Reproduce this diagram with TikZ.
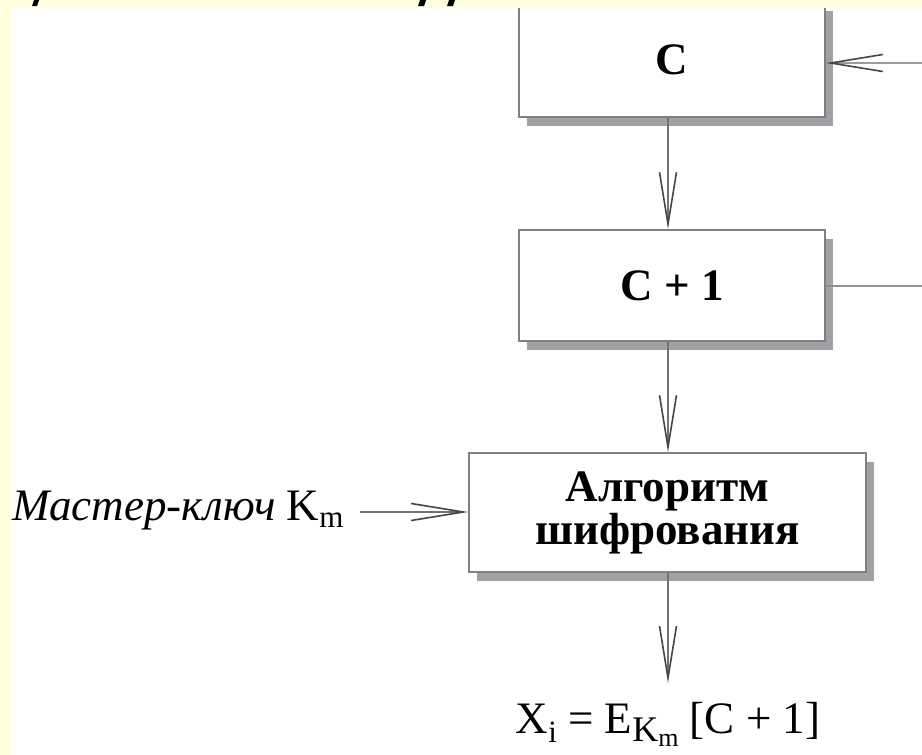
\documentclass[tikz,border=0pt]{standalone}
\usepackage{fontspec}
\setmainfont{Liberation Serif}
\usetikzlibrary{arrows.meta,shadows}
\definecolor{bgyellow}{RGB}{255,255,224}
\definecolor{boxgray}{RGB}{128,128,128}
\definecolor{shadowgray}{RGB}{160,160,165}
\definecolor{linegray}{RGB}{115,115,115}
\definecolor{tipgray}{RGB}{70,70,70}
\tikzset{
  blockbox/.style={draw=boxgray, line width=1.6pt, fill=white, inner sep=0pt,
    drop shadow={shadow xshift=8pt, shadow yshift=-9pt, fill=shadowgray, opacity=1},
    font=\fontsize{45}{50}\selectfont\bfseries, align=center},
  conn/.style={draw=linegray, line width=1.3pt},
  arr/.style={conn, -{Straight Barb[length=52pt,width=17pt,line width=1.6pt,color=tipgray]}},
  txt/.style={inner sep=0pt, font=\fontsize{45}{50}\selectfont}
}
\begin{document}
\begin{tikzpicture}[x=1pt,y=-1pt]
\useasboundingbox (0,0) rectangle (922,755);
\fill[bgyellow] (0,0) rectangle (922,755);
\fill[white] (11,8) rectangle (922,755);

\node[blockbox, minimum width=306pt, minimum height=115pt] (C) at (672,59.5) {C};
\node[blockbox, minimum width=306pt, minimum height=111pt] (C1) at (672,285.5) {C + 1};
\node[blockbox, minimum width=397pt, minimum height=119pt,
      font=\fontsize{45}{43}\selectfont\bfseries] (alg) at (667.5,512.5) {Алгоритм\\шифрования};

\node[txt, anchor=base west] (master) at (12,520)
  {{\fontsize{45}{46}\selectfont\itshape Мастер-ключ} {\fontsize{45}{46}\selectfont K\raisebox{-7pt}{\fontsize{31}{31}\selectfont m}}};

\node[txt, anchor=base] (out) at (668,733)
  {X\raisebox{-9pt}{\fontsize{31}{31}\selectfont i} = E\raisebox{-8pt}{\fontsize{36}{36}\selectfont K\raisebox{-5pt}{\fontsize{26}{26}\selectfont m}} [C + 1]};

\coordinate (ax) at (668,0);
\draw[arr] (C.south -| ax) -- (C1.north -| ax);
\draw[arr] (C1.south -| ax) -- (alg.north -| ax);
\draw[arr] (alg.south -| ax) -- (668,683);

\coordinate (mk) at (360,512);
\draw[arr] (mk) -- (mk -| alg.west);

\coordinate (rin) at (922,63);
\draw[arr, draw=linegray!70] (rin) -- (rin -| C.east);

\coordinate (rout) at (922,286);
\draw[conn, draw=linegray!80] (C1.east |- rout) -- (rout);

% yellow strip at the top and the cut-off letters of the title above
\fill[bgyellow] (0,0) rectangle (922,8);
\fill[black] (34,0) -- (39,0) -- (37,6) -- (32,6) -- cycle;
\fill[black] (420,0) -- (426,0) -- (424,6) -- (418,6) -- cycle;
\fill[black] (449,0) -- (455,0) -- (453,6) -- (447,6) -- cycle;
\end{tikzpicture}
\end{document}
